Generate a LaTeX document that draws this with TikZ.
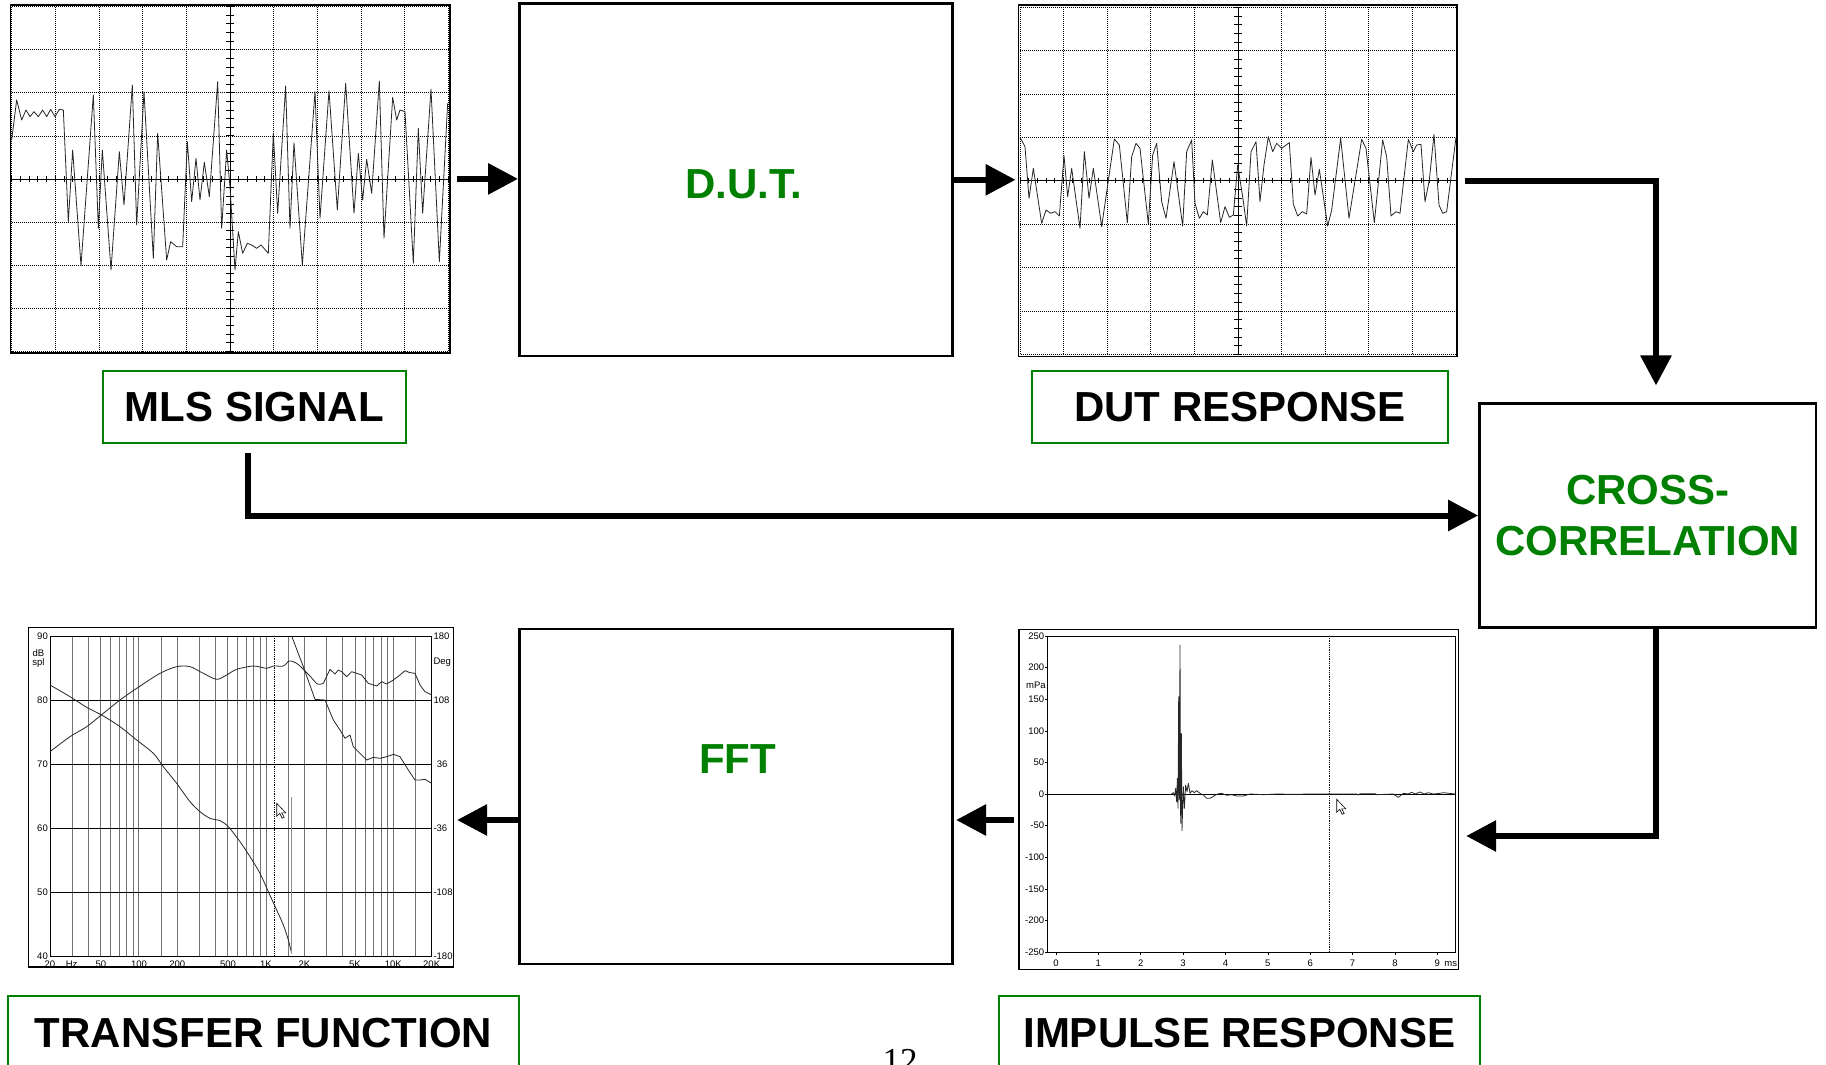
\documentclass[tikz,border=0pt]{standalone}
\usepackage{fontspec}
\setmainfont{Liberation Sans}
\newfontfamily\pgserif{Liberation Serif}
\usetikzlibrary{arrows.meta}
\definecolor{lblgreen}{RGB}{0,128,0}
\tikzset{
  arr/.style={line width=6pt, line join=miter, -{Triangle[length=30pt,width=30pt]}},
  blkbox/.style={draw=black, line width=2.5pt, inner sep=0pt},
  gtext/.style={text=lblgreen, font=\fontsize{42}{51.5}\selectfont\bfseries, inner sep=0pt},
  lblbox/.style={draw=lblgreen, line width=2pt, inner sep=0pt, minimum width=#1, minimum height=72.6pt, font=\fontsize{42}{50}\selectfont\bfseries},
  plotframe/.style={draw=black, line width=1.6pt, inner sep=0pt},
  scgrid/.style={black, line width=0.7pt, dash pattern=on 0.8pt off 1.2pt},
  scaxis/.style={black, line width=0.9pt},
  trace/.style={black!85, line width=0.8pt, line join=round},
  tfv/.style={black!55, line width=0.9pt},
  tfh/.style={black, line width=0.8pt},
  axbox/.style={black, line width=0.8pt},
  cursor/.style={black, line width=0.6pt, dash pattern=on 0.8pt off 1pt},
  smalllbl/.style={font=\fontsize{9.5}{10}\selectfont, inner sep=0pt},
  pointer/.style={draw=black, fill=white, line width=0.6pt}
}
\begin{document}
\begin{tikzpicture}[x=1pt,y=-1pt]
\useasboundingbox (0,0) rectangle (1826,1065);
\fill[white] (0,0) rectangle (1826,1065);

% ---------- plot frames (named) ----------
\node[plotframe, minimum width=439.3pt, minimum height=347.7pt] (mls) at (230.3,178.9) {};
\node[plotframe, minimum width=438.7pt, minimum height=351.7pt] (dutscope) at (1237.7,180.8) {};
\node[plotframe, minimum width=425pt, minimum height=339.4pt] (tf) at (240.8,797) {};
\node[plotframe, minimum width=439.3pt, minimum height=340pt] (ir) at (1238.7,799.3) {};

% ---------- MLS scope ----------
\begin{scope}[shift={(0,0)}, scale=1/3]
  \draw[scgrid] (35,20) rectangle (1345,1054);
  \foreach \i in {1,2,3,4,6,7,8,9} \draw[scgrid] ({35+131*\i},20) -- ({35+131*\i},1054);
  \foreach \j in {1,2,3,5,6,7} \draw[scgrid] (35,{20+129.25*\j}) -- (1345,{20+129.25*\j});
  \draw[scaxis] (35,537) -- (1345,537);
  \draw[scaxis] (690,20) -- (690,1054);
  \foreach \k in {0,...,50} \draw[scaxis] ({35+26.2*\k},529) -- ({35+26.2*\k},545);
  \foreach \k in {0,...,40} \draw[scaxis] (677,{20+25.85*\k}) -- (703,{20+25.85*\k});
  \draw[trace] plot coordinates {(35,420) (50,300) (65,360) (78,330) (90,350) (102,335) (115,350) (128,330) (140,350) (152,328) (165,350) (178,328) (190,330) (205,665) (218,450) (243,797) (280,285) (295,685) (307,450) (333,810) (358,455) (372,615) (397,255) (410,675) (432,275) (460,775) (473,400) (500,780) (512,725) (530,740) (548,740) (562,425) (575,605) (588,475) (600,600) (613,487) (628,590) (653,245) (665,685) (680,450) (690,560) (705,810) (715,695) (728,760) (742,730) (755,735) (770,745) (783,735) (805,760) (820,400) (833,640) (857,258) (870,685) (882,428) (907,795) (945,275) (960,655) (987,272) (1012,630) (1037,250) (1062,640) (1075,460) (1088,600) (1100,478) (1115,580) (1138,243) (1152,715) (1178,292) (1190,360) (1200,330) (1215,335) (1240,790) (1255,385) (1268,640) (1293,267) (1318,785) (1343,310)};
\end{scope}

% ---------- DUT response scope ----------
\begin{scope}[shift={(1010,0)}, scale=1/3]
  \draw[scgrid] (30,22) rectangle (1338,1063);
  \foreach \i in {1,2,3,4,6,7,8,9} \draw[scgrid] ({30+130.8*\i},22) -- ({30+130.8*\i},1063);
  \foreach \j in {1,2,3,5,6,7} \draw[scgrid] (30,{22+130.125*\j}) -- (1338,{22+130.125*\j});
  \draw[scaxis] (30,542.5) -- (1338,542.5);
  \draw[scaxis] (684,22) -- (684,1063);
  \foreach \k in {0,...,50} \draw[scaxis] ({30+26.16*\k},534.5) -- ({30+26.16*\k},550.5);
  \foreach \k in {0,...,40} \draw[scaxis] (671,{22+26.025*\k}) -- (697,{22+26.025*\k});
  \draw[trace] plot coordinates {(30,412) (45,440) (57,595) (70,505) (95,670) (108,630) (122,640) (135,635) (148,648) (162,467) (173,590) (185,505) (210,685) (223,455) (237,595) (250,505) (275,680) (313,417) (328,435) (352,668) (365,470) (378,430) (390,445) (415,672) (428,465) (440,430) (455,605) (468,655) (492,485) (518,678) (530,455) (545,420) (555,610) (568,655) (580,635) (592,645) (607,480) (632,668) (645,620) (658,652) (670,645) (683,495) (698,590) (710,678) (723,455) (738,425) (750,605) (762,495) (775,410) (788,455) (800,430) (815,445) (838,428) (850,612) (863,648) (877,635) (890,642) (903,472) (915,585) (928,508) (953,678) (965,630) (992,415) (1017,655) (1055,418) (1068,445) (1093,668) (1118,420) (1130,470) (1143,648) (1158,635) (1170,640) (1195,418) (1210,455) (1220,435) (1233,433) (1245,605) (1258,540) (1272,403) (1287,615) (1298,640) (1310,635) (1338,412)};
\end{scope}

% ---------- transfer function plot ----------
\begin{scope}[shift={(20,620)}, scale=1/3]
  \foreach \x in {157.2,204.9,241.9,272.1,297.7,319.8,339.3,356.8,424,471.7,538.9,586.6,623.5,653.8,679.3,701.5,721.0,738.4,805.6,853.3,920.6,968.2,1005.2,1035.4,1061.0,1083.1,1102.6,1120.1,1187.3}
    \draw[tfv] (\x,48) -- (\x,1008);
  \foreach \y in {240,432,624,816} \draw[tfh] (90,\y) -- (1235,\y);
  \draw[axbox] (90,48) rectangle (1235,1008);
  \draw[cursor] (763,48) -- (763,1008);
  \draw[trace] plot[smooth, tension=0.5] coordinates {(90,395) (150,350) (200,320) (250,280) (300,240) (350,205) (420,160) (470,140) (510,140) (550,160) (590,178) (620,165) (650,148) (700,138) (740,145) (760,138) (790,138) (808,123) (830,130) (850,148) (870,168) (892,192) (910,190)};
  \draw[trace] plot coordinates {(910,190) (930,148) (945,162) (955,150) (965,155) (980,170) (995,155) (1010,160) (1025,165) (1045,190) (1070,198) (1085,185) (1100,192) (1120,180) (1140,165) (1155,152) (1170,158) (1185,160) (1200,195) (1215,215) (1235,225)};
  \draw[trace] plot[smooth, tension=0.5] coordinates {(90,195) (150,230) (200,262) (250,288) (300,320) (350,360) (400,400) (430,440) (470,490) (510,545) (540,575) (570,595) (600,602) (625,620) (660,665) (690,710) (720,760) (745,815) (770,870) (790,915) (805,960) (815,1000)};
  \draw[black!45, line width=0.9pt] (815,1000) -- (815,530);
  \draw[trace] plot coordinates {(815,48) (850,140) (885,238) (915,240) (940,300) (960,330) (975,355) (990,345) (1000,380) (1020,400) (1040,420) (1060,412) (1080,415) (1100,410) (1120,403) (1140,410) (1165,450) (1185,480) (1200,480) (1215,478) (1235,490)};
  % labels
  \foreach \y/\t in {48/90,240/80,432/70,624/60,816/50,1008/40} \node[smalllbl, anchor=east] at (84,\y) {\t};
  \node[smalllbl] at (55,100) {dB};
  \node[smalllbl] at (55,128) {spl};
  \foreach \y/\t in {48/180,240/108,624/-36,816/-108,1008/-180} \node[smalllbl, anchor=west] at (1240,\y) {\t};
  \node[smalllbl, anchor=west] at (1250,432) {36};
  \node[smalllbl, anchor=west] at (1240,128) {Deg};
  \foreach \x/\t in {90/20,155/Hz,243/50,357/100,472/200,624/500,738/1K,853/2K,1005/5K,1120/10K,1235/20K} \node[smalllbl] at (\x,1034) {\t};
\end{scope}
\draw[pointer] (276.7,803.3) -- ++(0,13) -- ++(3,-3) -- ++(2.5,5) -- ++(2,-1) -- ++(-2.5,-4.5) -- ++(4,0) -- cycle;

% ---------- impulse response plot ----------
\begin{scope}[shift={(1010,620)}, scale=1/3]
  \draw[axbox] (113,48) rectangle (1335,997);
  \draw[black, line width=0.8pt] (113,522) -- (1335,522);
  \draw[cursor] (958,48) -- (958,997);
  \draw[trace] plot coordinates {(485,522) (490,518) (494,528) (497,505) (500,545) (502,475) (504,565) (506,230) (508,540) (510,75) (512,610) (514,340) (516,632) (518,560) (520,500) (523,565) (527,495) (531,515) (535,490) (540,520) (546,512) (553,518) (560,512) (570,520) (580,525) (590,535) (600,535) (612,528) (622,522) (635,520) (650,526) (665,524) (680,528) (700,528) (720,522) (760,524) (800,522) (850,523) (900,522) (1040,522) (1045,525) (1050,521) (1095,521) (1100,524) (1150,522) (1165,532) (1180,520) (1195,522) (1205,517) (1215,522) (1230,516) (1242,522) (1255,518) (1270,522) (1290,520) (1300,518) (1335,522)};
  \foreach \v in {250,200,150,100,50,0,-50,-100,-150,-200,-250} {
    \node[smalllbl, anchor=east] at (103,{522-1.896*\v}) {\v};
    \draw[black, line width=0.6pt] (106,{522-1.896*\v}) -- (113,{522-1.896*\v});
  }
  \node[smalllbl] at (78,195) {mPa};
  \foreach \t in {0,...,9} {
    \node[smalllbl] at ({138+127.1*\t},1031) {\t};
    \draw[black, line width=0.6pt] ({138+127.1*\t},997) -- ({138+127.1*\t},1005);
  }
  \node[smalllbl] at (1322,1031) {ms};
\end{scope}
\draw[pointer] (1336.7,799.3) -- ++(0,13) -- ++(3,-3) -- ++(2.5,5) -- ++(2,-1) -- ++(-2.5,-4.5) -- ++(4,0) -- cycle;

% ---------- processing boxes ----------
\node[blkbox, minimum width=433pt, minimum height=352.5pt] (dut) at (735.8,179.8) {};
\node[gtext] (duttext) at (743.5,184) {D.U.T.};
\node[blkbox, minimum width=433pt, minimum height=335pt] (fft) at (735.8,796.5) {};
\node[gtext] (ffttext) at (737.7,759) {FFT};
\node[blkbox, gtext, minimum width=336.7pt, minimum height=224.4pt, align=center] (xc) at (1647.7,515.5) {CROSS-\\CORRELATION};

% ---------- label boxes ----------
\node[lblbox=303.3pt] (mlslbl) at (254.3,407) {MLS SIGNAL};
\node[lblbox=416.6pt] (dutlbl) at (1240,407) {DUT RESPONSE};
\node[lblbox=511pt, minimum height=74.6pt] (tflbl) at (263.5,1033) {TRANSFER FUNCTION};
\node[lblbox=480.8pt, minimum height=74.6pt] (irlbl) at (1239.2,1033) {IMPULSE RESPONSE};

\node[font=\pgserif\fontsize{35}{40}\selectfont, anchor=base, inner sep=0pt] (pgnum) at (900,1072) {12};

% ---------- connectors ----------
\coordinate (y820) at (0,820);
\coordinate (y836) at (0,836);
\draw[arr, shorten <=6pt] (mls.east) -- (mls.east -| dut.west);
\draw[arr, shorten >=2pt] (dut.east) -- (dut.east -| dutscope.west);
\draw[arr, shorten <=7pt, shorten >=16.6pt] (dutscope.east) -| ([xshift=8.3pt]xc.north);
\draw[arr, shorten >=7pt] ([xshift=8.3pt]xc.south) |- (ir.east |- y836);
\draw[arr, shorten <=9pt] ([xshift=-6pt]mlslbl.south) |- (xc.west);
\draw[arr, shorten <=4pt, shorten >=2.5pt] (ir.west |- y820) -- (fft.east |- y820);
\draw[arr, shorten >=3pt] (fft.west |- y820) -- (tf.east |- y820);
\end{tikzpicture}
\end{document}
